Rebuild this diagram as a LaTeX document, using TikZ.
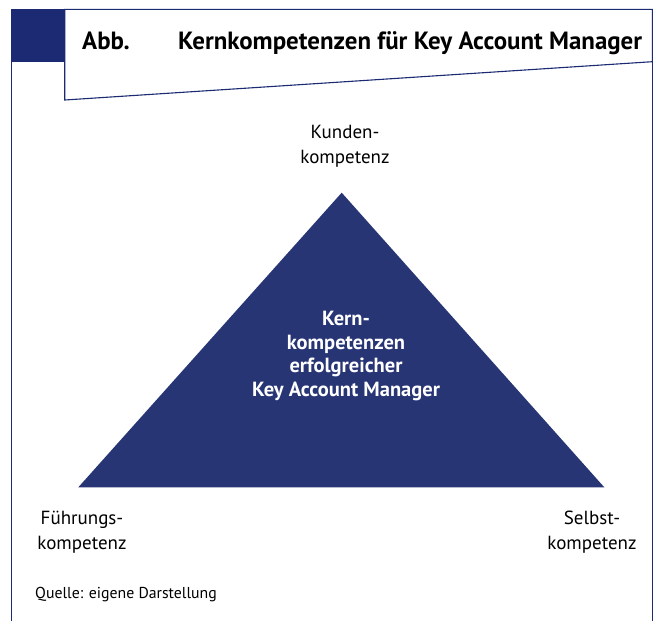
\documentclass[tikz,border=0pt]{standalone}
\usepackage{fontspec}
\setmainfont{PT Sans}
\definecolor{navy}{RGB}{27,42,114}
\definecolor{tri}{RGB}{40,53,117}
\begin{document}
\begin{tikzpicture}[x=1pt,y=-1pt,
  frame/.style={draw=navy,line width=1.1pt},
  lbl/.style={align=center,font=\fontsize{19}{24.5}\selectfont,inner sep=0pt},
  heading/.style={anchor=base west,inner sep=0pt,font=\bfseries\fontsize{24.9}{28}\selectfont},
  core/.style={align=center,text=white,font=\bfseries\fontsize{20.5}{23.7}\selectfont,inner sep=0pt}]
\useasboundingbox (0,0) rectangle (656,621);
% outer frame
\draw[frame] (11.7,621) -- (11.7,9.3) -- (652.3,9.3) -- (652.3,621);
% blue corner block
\fill[navy] (11.7,9.3) rectangle (64.7,62);
% title card with slanted lower edge
\draw[frame,fill=white] (64.7,9.3) -- (652.3,9.3) -- (652.3,61.7) -- (64.7,100) -- cycle;
\node[heading] (abb) at (82,49) {Abb.};
\node[heading] (title) at (178,49) {Kernkompetenzen für Key Account Manager};
% triangle
\fill[tri] (341.7,192.7) coordinate (top) -- (604.3,487.3) coordinate (br) -- (78.3,487.3) coordinate (bl) -- cycle;
\node[core] (kern) at (346,356) {Kern-\\kompetenzen\\erfolgreicher\\Key Account Manager};
% corner labels
\node[lbl] (kunden) at (345,146) {Kunden-\\kompetenz};
\node[lbl] (fuehrung) at (82,532) {Führungs-\\kompetenz};
\node[lbl] (selbst) at (592,532) {Selbst-\\kompetenz};
\node[anchor=base west,inner sep=0pt,font=\fontsize{15.8}{18}\selectfont] (quelle) at (35,598) {Quelle: eigene Darstellung};
\end{tikzpicture}
\end{document}
